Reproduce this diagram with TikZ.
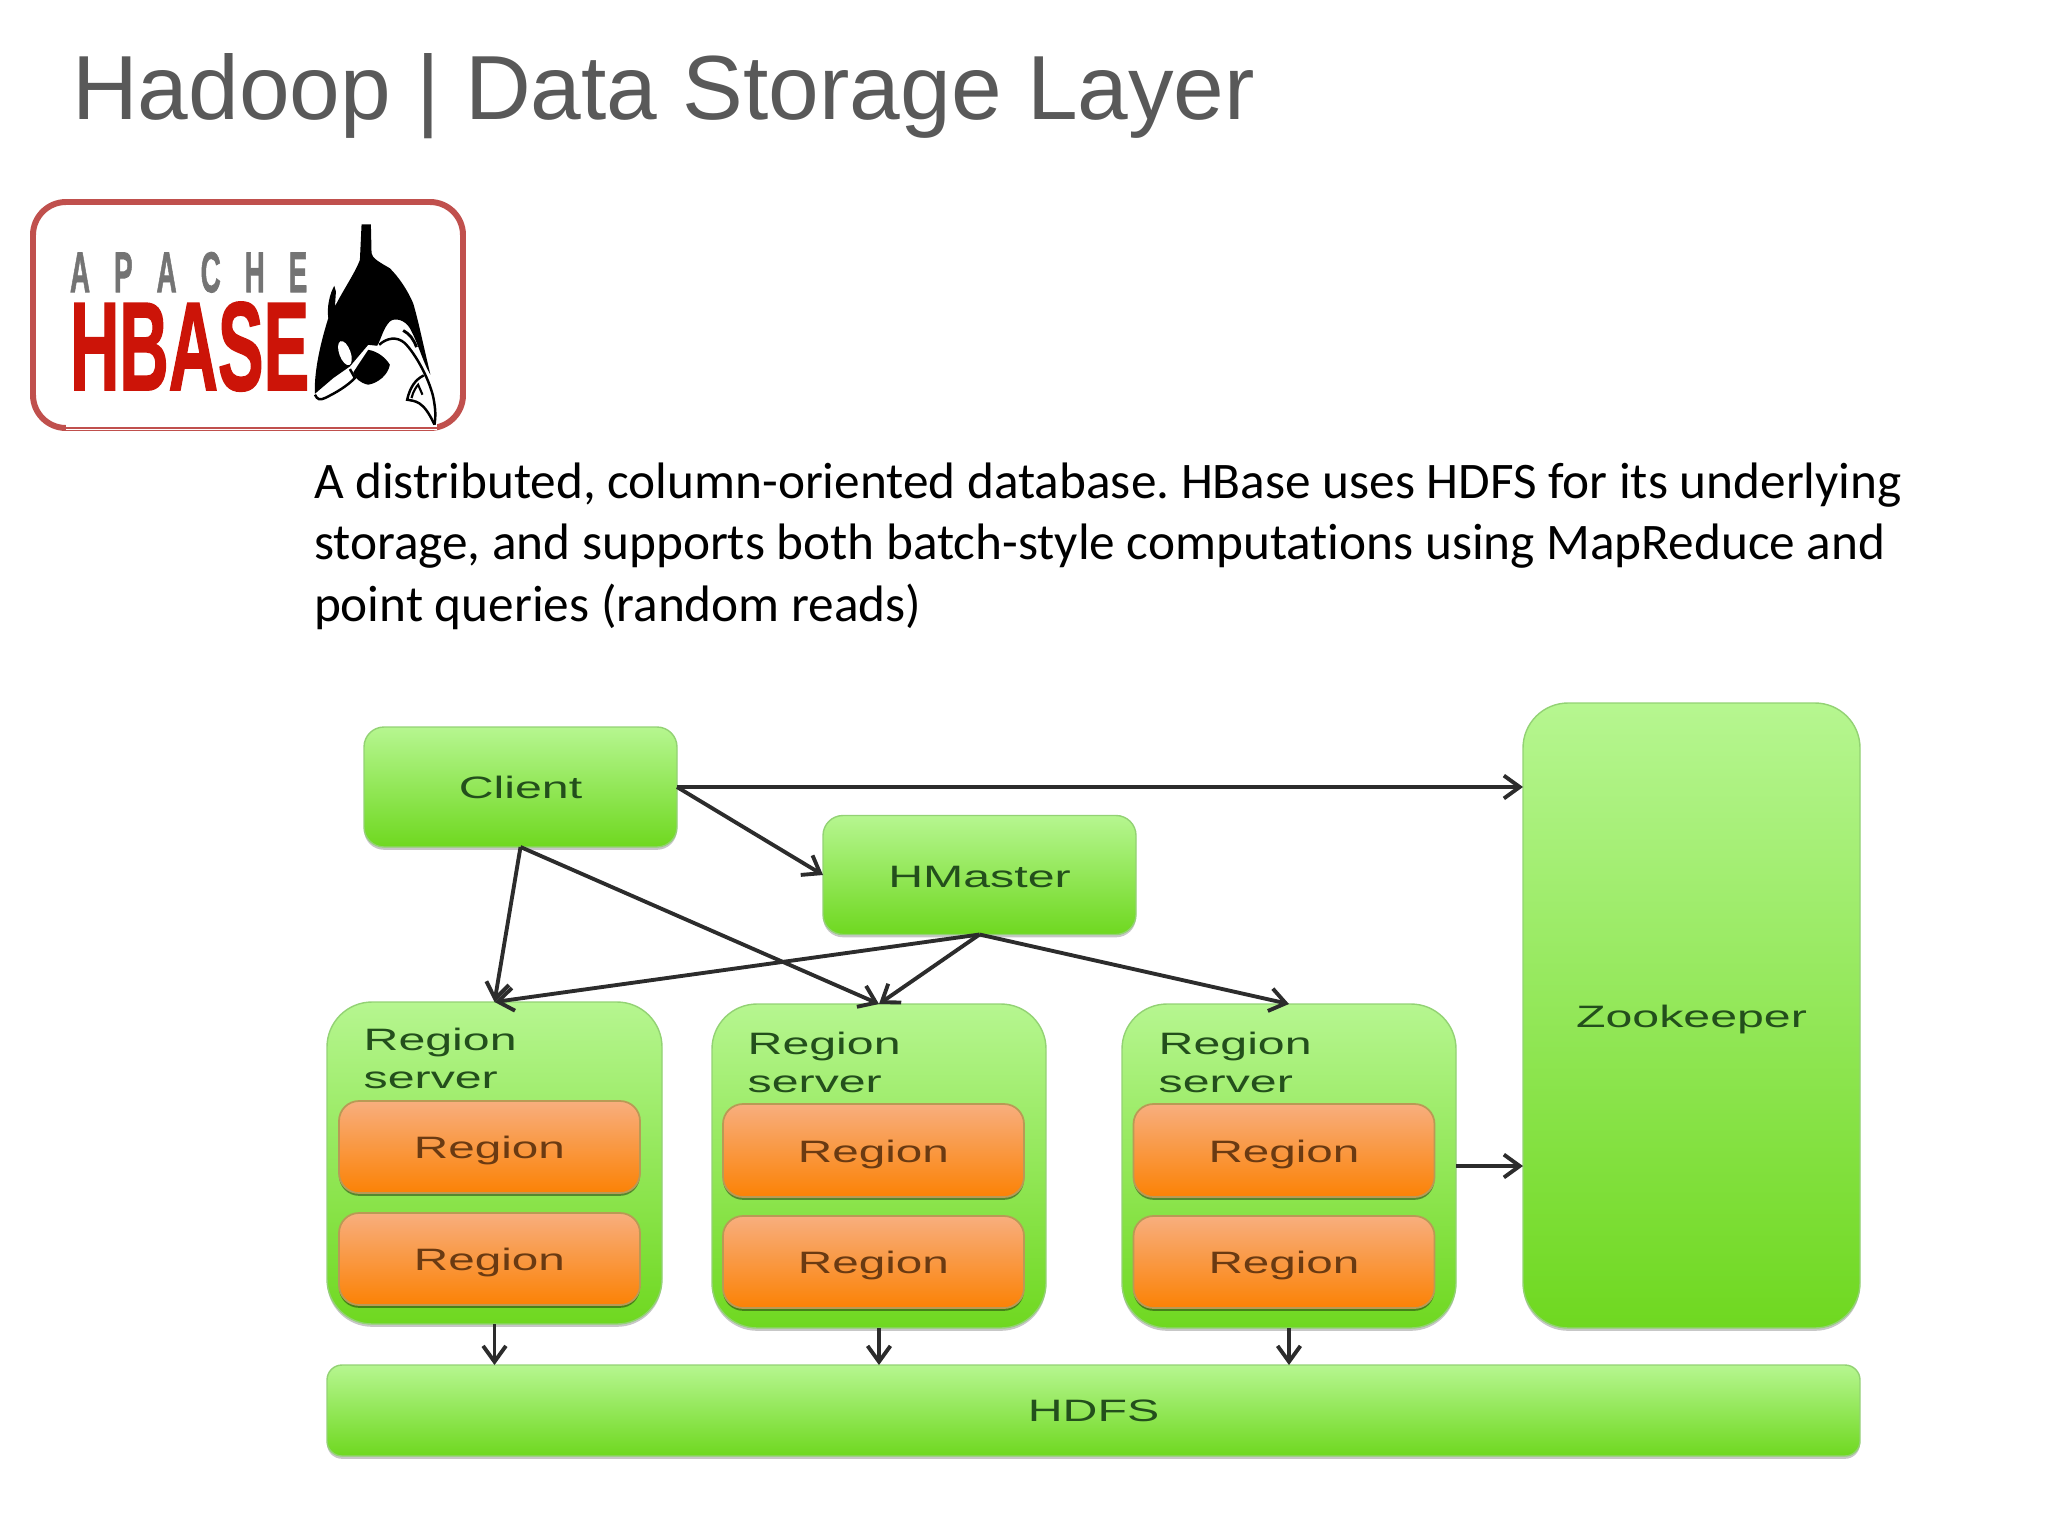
\documentclass[tikz,border=0pt]{standalone}
\usepackage{fontspec}
\setmainfont{Liberation Sans}
\newfontfamily\bodyfont[Ligatures=NoCommon]{Carlito}
\newfontfamily\logofont[BoldFont={Liberation Sans Bold},BoldFeatures={FakeBold=1.6}]{Liberation Sans}
\usetikzlibrary{arrows.meta,shadows}
\definecolor{gtop}{HTML}{B6F690}
\definecolor{gbot}{HTML}{6FD820}
\definecolor{gline}{HTML}{93D274}
\definecolor{otop}{HTML}{F8AE7E}
\definecolor{obot}{HTML}{FB8205}
\definecolor{oline}{HTML}{B99A55}
\definecolor{gtext}{HTML}{234F1C}
\definecolor{otext}{HTML}{6A3A12}
\definecolor{arrowc}{HTML}{2C2C2C}
\definecolor{titlec}{HTML}{595959}
\definecolor{logoline}{HTML}{C0504D}
\definecolor{logored}{HTML}{CC1408}
\definecolor{logogray}{HTML}{747474}
\newcommand{\wide}[1]{\scalebox{1.56}[1]{#1}}
\newcommand{\widelow}[1]{\raisebox{0pt}[6.6pt][0pt]{\scalebox{1.54}[1]{#1}}}
\tikzset{
  sized/.style 2 args={minimum width=#1*0.01cm,minimum height=#2*0.01cm,inner sep=0pt,outer sep=0pt},
  greenbox/.style={draw=gline,line width=0.4pt,top color=gtop,bottom color=gbot,text=gtext,
    font=\fontsize{8.8}{10.8}\selectfont,
    drop shadow={shadow xshift=0pt,shadow yshift=-0.8pt,opacity=.22,fill=black}},
  orangebox/.style={draw=oline,line width=0.5pt,top color=otop,bottom color=obot,text=otext,
    font=\fontsize{8.8}{10.8}\selectfont,rounded corners=0.2cm,
    drop shadow={shadow xshift=0pt,shadow yshift=-0.8pt,opacity=.4,fill=black}},
  rstext/.style={text=gtext,font=\fontsize{8.8}{10.8}\selectfont,align=left,anchor=west,inner sep=0pt},
  link/.style={draw=arrowc,line width=1.1pt,-{Straight Barb[length=4.5pt,width=6.5pt,line width=1.1pt]}},
  plaintext/.style={inner sep=0pt,outer sep=0pt}
}
\begin{document}
\begin{tikzpicture}[x=0.01cm,y=-0.01cm]
\useasboundingbox (0,0) rectangle (2048,1536);
% title
\node[plaintext,anchor=base west,text=titlec,font=\fontsize{25.9}{30}\selectfont] (title) at (72,119) {Hadoop | Data Storage Layer};
% logo
\node[plaintext,draw=logoline,line width=1.7pt,rounded corners=0.33cm,minimum width=430*0.01cm,minimum height=226*0.01cm] (logo) at (248,315) {};
\fill[white] (66,421) rectangle (437,430);
\draw[logoline,line width=0.5pt] (66,428) -- (437,428);
\node[plaintext,anchor=north west,text=logogray] (apache) at (70,252) {\resizebox{67.5pt}{11.4pt}{\logofont\bfseries A\hspace{0.86em}P\hspace{0.86em}A\hspace{0.86em}C\hspace{0.86em}H\hspace{0.86em}E}};
\node[plaintext,anchor=north west,text=logored] (hbase) at (70,302) {\resizebox{68pt}{25pt}{\logofont\bfseries HBASE}};
\begin{scope}[shift={(300,210)},x=0.003333cm,y=-0.003333cm]
  \fill[black] (185,43) -- (213,43) -- (215,130) .. controls (218,145) and (235,155) .. (270,175)
    .. controls (300,205) and (325,245) .. (340,280)
    .. controls (355,330) and (368,395) .. (392,495)
    .. controls (370,460) and (355,400) .. (330,355)
    .. controls (315,330) and (285,322) .. (270,335)
    .. controls (250,355) and (245,385) .. (232,408)
    -- (205,405) -- (150,470) -- (100,505) -- (45,552)
    .. controls (42,500) and (55,420) .. (85,325)
    .. controls (80,290) and (90,250) .. (103,228) -- (108,245) -- (105,290)
    .. controls (130,240) and (165,190) .. (180,150) -- cycle;
  \fill[black] (205,420) .. controls (235,425) and (258,445) .. (270,465)
    .. controls (265,495) and (235,520) .. (205,525)
    .. controls (180,520) and (165,505) .. (160,488) -- cycle;
  \fill[white,rotate around={20:(135,430)}] (135,430) ellipse [x radius=17,y radius=38];
  \draw[black,line width=0.7pt] (45,555) .. controls (52,570) and (60,572) .. (75,565)
    .. controls (110,548) and (140,530) .. (165,505) -- (150,478);
  \draw[black,line width=0.7pt] (238,405) .. controls (260,385) and (290,378) .. (315,400)
    .. controls (345,430) and (385,500) .. (400,560) .. controls (408,600) and (408,620) .. (404,645);
  \draw[black,line width=0.7pt] (372,497) .. controls (345,510) and (330,535) .. (322,570)
    .. controls (345,575) and (370,570) .. (404,645);
  \draw[black,line width=0.6pt] (335,565) .. controls (340,545) and (350,530) .. (355,525) -- (368,555);
  \draw[black,line width=0.8pt] (310,362) .. controls (330,372) and (342,390) .. (350,412);
\end{scope}
% body text
\node[plaintext,anchor=north west,align=left,text=black,font=\bodyfont\frenchspacing\fontsize{14.58}{17.45}\selectfont] (body) at (314,463)
  {A distributed, column-oriented database. HBase uses HDFS for its underlying\\
   storage, and supports both batch-style computations using MapReduce and\\
   point queries (random reads)};
% boxes
\node[sized={313}{120},greenbox,rounded corners=0.2cm] (client) at (520.5,787) {\wide{Client}};
\node[sized={313}{119},greenbox,rounded corners=0.2cm] (hmaster) at (979.5,875) {\raisebox{0pt}[6.9pt][0pt]{\wide{HMaster}}};
\node[sized={337}{625},greenbox,rounded corners=0.45cm] (zoo) at (1691.5,1015.5) {\raisebox{0pt}[6.6pt][0pt]{\wide{Zookeeper}}};
\node[sized={335}{322},greenbox,rounded corners=0.45cm] (rsa) at (494.5,1163) {};
\node[sized={334}{324},greenbox,rounded corners=0.45cm] (rsb) at (879,1166) {};
\node[sized={334}{324},greenbox,rounded corners=0.45cm] (rsc) at (1289,1166) {};
\node[rstext] (rsat) at (363,1058) {\wide{Region}\\\wide{server}};
\node[rstext] (rsbt) at (747,1062) {\wide{Region}\\\wide{server}};
\node[rstext] (rsct) at (1158,1062) {\wide{Region}\\\wide{server}};
\node[sized={301}{92},orangebox] (ra1) at (489.5,1147) {\widelow{Region}};
\node[sized={301}{92},orangebox] (ra2) at (489.5,1259) {\widelow{Region}};
\node[sized={301}{93},orangebox] (rb1) at (873.5,1150.5) {\widelow{Region}};
\node[sized={301}{92},orangebox] (rb2) at (873.5,1262) {\widelow{Region}};
\node[sized={301}{93},orangebox] (rc1) at (1284,1150.5) {\widelow{Region}};
\node[sized={301}{92},orangebox] (rc2) at (1284,1262) {\widelow{Region}};
\node[sized={1533}{91},greenbox,rounded corners=0.15cm] (hdfs) at (1093.5,1410.5) {\wide{HDFS}};
% connectors
\draw[link] (client.east) -- (client.east -| zoo.west);
\draw[link] (client.east) -- (hmaster.west);
\draw[link] (client.south) -- (rsa.north);
\draw[link] (client.south) -- (rsb.north);
\draw[link] (hmaster.south) -- (rsa.north);
\draw[link] (hmaster.south) -- (rsb.north);
\draw[link] (hmaster.south) -- (rsc.north);
\draw[link] (rsc.east) -- (rsc.east -| zoo.west);
\draw[link] (rsa.south) -- (rsa.south |- hdfs.north);
\draw[link] (rsb.south) -- (rsb.south |- hdfs.north);
\draw[link] (rsc.south) -- (rsc.south |- hdfs.north);
\end{tikzpicture}
\end{document}
